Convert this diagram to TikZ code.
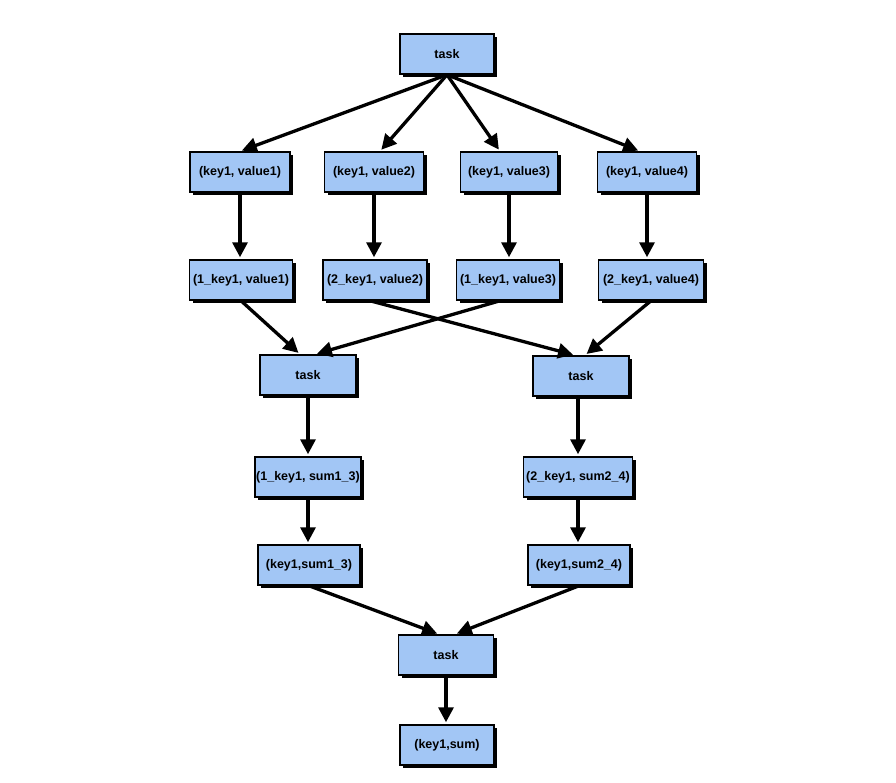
\documentclass[tikz,border=0pt]{standalone}
\usepackage{fontspec}
\setmainfont{Liberation Sans}
\usetikzlibrary{arrows.meta,shadows}
\definecolor{boxblue}{RGB}{162,198,245}
\begin{document}
\begin{tikzpicture}[x=1pt,y=-1pt,
  box/.style={draw=black,line width=1.5pt,fill=boxblue,minimum height=40pt,inner sep=1pt,
    font=\bfseries\fontsize{12.5}{14}\selectfont,
    drop shadow={shadow xshift=3pt,shadow yshift=-3pt,fill=black,opacity=1}},
  conn/.style={line width=3.3pt,-{Triangle[length=15pt,width=15pt]},shorten >=2pt}]
\useasboundingbox (0,0) rectangle (896,782);
\node[box,minimum width=94pt] (t0) at (447,54) {task};
\node[box,minimum width=100pt] (k1) at (240,172) {(key1, value1)};
\node[box,minimum width=99pt] (k2) at (374,172) {(key1, value2)};
\node[box,minimum width=97pt] (k3) at (509,172) {(key1, value3)};
\node[box,minimum width=99pt] (k4) at (647,172) {(key1, value4)};
\node[box,minimum width=103pt] (v1) at (241,280) {(1\_key1, value1)};
\node[box,minimum width=104pt] (v2) at (375,280) {(2\_key1, value2)};
\node[box,minimum width=103pt] (v3) at (508,280) {(1\_key1, value3)};
\node[box,minimum width=105pt] (v4) at (651,280) {(2\_key1, value4)};
\node[box,minimum width=96pt] (tL) at (308,375) {task};
\node[box,minimum width=96pt] (tR) at (581,376) {task};
\node[box,minimum width=104pt] (s1) at (308,477) {(1\_key1, sum1\_3)};
\node[box,minimum width=109pt] (s2) at (578,477) {(2\_key1, sum2\_4)};
\node[box,minimum width=102pt] (r1) at (309,565) {(key1,sum1\_3)};
\node[box,minimum width=102pt] (r2) at (579,565) {(key1,sum2\_4)};
\node[box,minimum width=95pt] (tb) at (446,655) {task};
\node[box,minimum width=94pt] (ks) at (447,745) {(key1,sum)};
\draw[conn] (t0.south) -- (k1.north);
\draw[conn] (t0.south) -- ([xshift=6pt]k2.north);
\draw[conn] (t0.south) -- ([xshift=-9pt]k3.north);
\draw[conn] (t0.south) -- ([xshift=-7pt]k4.north);
\draw[conn] (k1.south) -- (v1.north -| k1.south);
\draw[conn] (k2.south) -- (v2.north -| k2.south);
\draw[conn] (k3.south) -- (v3.north -| k3.south);
\draw[conn] (k4.south) -- (v4.north -| k4.south);
\draw[conn] (v1.south) -- ([xshift=-8pt]tL.north);
\draw[conn] ([xshift=-8pt]v3.south) -- ([xshift=7pt]tL.north);
\draw[conn] ([xshift=-5pt]v2.south) -- ([xshift=-6pt]tR.north);
\draw[conn] (v4.south) -- ([xshift=4pt]tR.north);
\draw[conn] (tL.south) -- (s1.north -| tL.south);
\draw[conn] ([xshift=-3pt]tR.south) -- (s2.north);
\draw[conn] (s1.south) -- (r1.north -| s1.south);
\draw[conn] (s2.south) -- (r2.north -| s2.south);
\draw[conn] (r1.south) -- ([xshift=-7pt]tb.north);
\draw[conn] (r2.south) -- ([xshift=9pt]tb.north);
\draw[conn] (tb.south) -- (ks.north -| tb.south);
\end{tikzpicture}
\end{document}
